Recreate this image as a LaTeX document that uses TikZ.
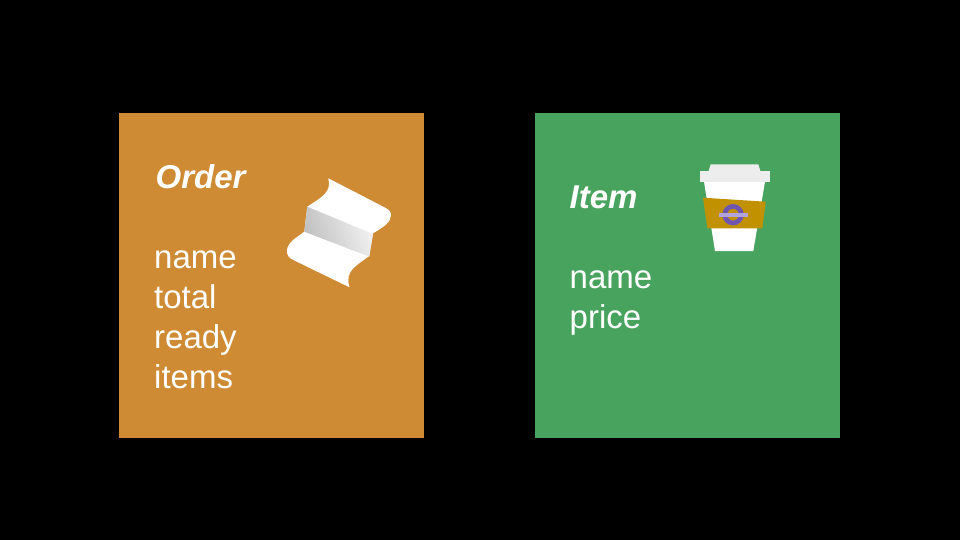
\documentclass[tikz,border=0pt]{standalone}
\usepackage{fontspec}
\setmainfont{Liberation Sans}
\definecolor{orderbg}{HTML}{CE8B34}
\definecolor{itembg}{HTML}{48A35F}
\definecolor{lidgray}{HTML}{EDEDED}
\definecolor{sleeve}{HTML}{C19100}
\definecolor{roundel}{HTML}{6E55B0}
\definecolor{roundbar}{HTML}{B3A3DC}
\tikzset{
    card/.style={inner sep=0pt,minimum width=#1,minimum height=325pt,anchor=north west},
    title/.style={white,inner sep=0pt,anchor=base west,font=\fontsize{33}{33}\selectfont\bfseries\itshape},
    field/.style={white,inner sep=0pt,anchor=base west,font=\fontsize{33}{33}\selectfont}
}
\begin{document}
\begin{tikzpicture}[x=1pt,y=-1pt]
        \fill [black] (0,0) rectangle (960,540);
        \useasboundingbox (0,0) rectangle (960,540);
        \node [card=305pt,fill=orderbg] (order) at (119.2,113) {};
        \node [card=305.5pt,fill=itembg] (item) at (534.5,113) {};
        \node [title] (ordertitle) at (155.5,188) {Order};
        \node [title] (itemtitle) at (569.5,208) {Item};
        \foreach \name/\y in {name/268,total/308,ready/348,items/388} {
            \node [field] (order\name) at (154,\y) {\name};
        }
        \foreach \name/\y in {name/288,price/328} {
            \node [field] (item\name) at (569.5,\y) {\name};
        }
        % receipt
        \fill [white] (328.3,178.3)
            .. controls (332,192) and (322,197) .. (307.3,206.7)
            -- (304.3,231.7)
            .. controls (296,238) and (288,242) .. (287,250)
            .. controls (286.5,255) and (289,258) .. (293.3,260)
            -- (349.5,287.3)
            .. controls (344,270) and (358,265) .. (369,256)
            -- (373,233.3)
            .. controls (384,227) and (391,222) .. (391,215)
            .. controls (391,211) and (388,209) .. (383.3,206.7)
            -- cycle;
        \shade [left color=black!25,right color=black!5,shading angle=110]
            (307.3,206.7) -- (373,234) -- (369.3,256.7) -- (304.3,231.7) -- cycle;
        % cup
        \fill [white] (704,181.7) -- (765,181.7) -- (753.3,251) -- (715,251) -- cycle;
        \fill [lidgray] (710.7,164.3) -- (758.3,164.3) -- (760.7,172) -- (708.3,172) -- cycle;
        \fill [lidgray] (700.3,171) -- (769.7,171) -- (769.7,181.7) -- (700.3,181.7) -- cycle;
        \fill [sleeve] (703,197.7) -- (765.7,201.7) -- (762.3,228.3) -- (707.3,228.3) -- cycle;
        \draw [roundel,line width=4.7pt] (733,214.7) circle (8.3);
        \fill [roundbar] (719,213) rectangle (747.7,216.7);
\end{tikzpicture}
\end{document}
